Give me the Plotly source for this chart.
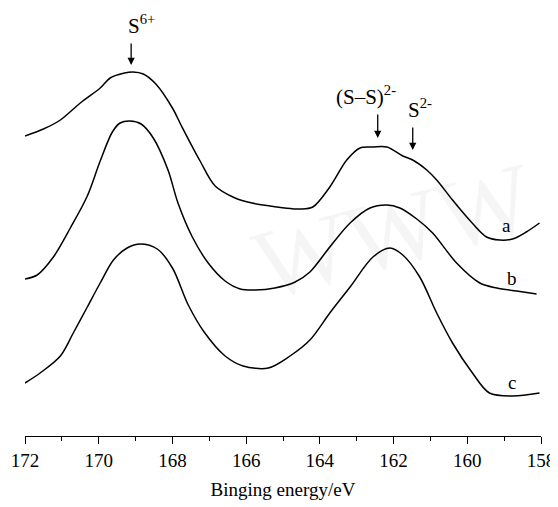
import plotly.graph_objects as go

# Binding energy (eV) and relative intensity (arbitrary units, offset stacked)
energy_a = [172.00, 171.50, 171.04, 170.50, 169.96, 169.69, 169.30, 169.07, 168.79, 168.45,
            168.00, 167.74, 167.25, 166.84, 166.30, 165.84, 165.35, 164.95, 164.54, 164.19,
            163.73, 163.27, 162.91, 162.56, 162.18, 161.75, 161.48, 161.10, 160.83, 160.40,
            159.94, 159.48, 159.12, 158.77, 158.40, 158.04]
intensity_a = [300, 307, 316, 333, 348, 358, 363, 364, 362, 352,
               328, 309, 275, 250, 238, 233, 230, 228, 227, 229,
               249, 276, 288, 289, 289, 280, 276, 266, 256, 236,
               216, 199, 196, 197, 204, 213]

energy_b = [172.00, 171.67, 171.23, 170.77, 170.31, 169.96, 169.63, 169.42, 169.15, 168.85,
            168.52, 168.12, 167.85, 167.46, 167.03, 166.57, 166.16, 165.76, 165.22,
            164.67, 164.27, 163.73, 163.18, 162.64, 162.18, 161.83, 161.37, 160.94, 160.29,
            159.66, 159.20, 158.66, 158.12]
intensity_b = [157, 161, 179, 208, 240, 275, 304, 313, 315, 312,
               298, 266, 233, 199, 173, 155, 147, 146, 148,
               154, 164, 189, 213, 228, 231, 228, 217, 203, 173,
               153, 148, 145, 142]

energy_c = [172.00, 171.59, 171.04, 170.69, 170.31, 169.96, 169.60, 169.23, 168.87, 168.41,
            168.00, 167.57, 167.14, 166.57, 166.08, 165.40, 164.81, 164.27, 163.73, 163.18,
            162.56, 162.10, 161.75, 161.29, 160.83, 160.40, 159.86, 159.40, 158.77, 158.04]
intensity_c = [53, 63, 80, 103, 129, 153, 176, 188, 192, 187,
               168, 131, 104, 80, 70, 68, 80, 96, 123, 149,
               179, 188, 181, 159, 123, 93, 63, 43, 40, 43]

curve_labels = ["a", "b", "c"]
label_x = [158.93, 158.79, 158.78]
label_y = [211, 158, 54]

peak_names = ["S<sup>6+</sup>", "(S\u2013S)<sup>2-</sup>", "S<sup>2-</sup>"]
peak_arrow_x = [169.12, 162.43, 161.48]
peak_arrow_tail = [394, 323, 310]
peak_arrow_head = [371, 298, 286]
peak_text_x = [168.85, 162.76, 161.29]

x_ticks = [172, 170, 168, 166, 164, 162, 160, 158]

FONT = "Liberation Serif"

fig = go.Figure()

# faint watermark
fig.add_annotation(x=162.0, y=205, xref="x", yref="y", text="WWW", showarrow=False,
                   font=dict(family=FONT, size=100, color="rgba(0,0,0,0.04)"),
                   textangle=-15)

for xs, ys in [(energy_a, intensity_a), (energy_b, intensity_b), (energy_c, intensity_c)]:
    fig.add_trace(go.Scatter(x=xs, y=ys, mode="lines",
                             line=dict(color="black", width=1.5, shape="spline", smoothing=0.9),
                             showlegend=False, hoverinfo="skip"))

for lab, lx, ly in zip(curve_labels, label_x, label_y):
    fig.add_annotation(x=lx, y=ly, xref="x", yref="y", text=lab, showarrow=False,
                       font=dict(family=FONT, size=19, color="black"))

for name, ax_, yt, yh, tx in zip(peak_names, peak_arrow_x, peak_arrow_tail, peak_arrow_head, peak_text_x):
    fig.add_annotation(x=ax_, y=yh, ax=ax_, ay=yt, xref="x", yref="y", axref="x", ayref="y",
                       text="", showarrow=True, arrowhead=2, arrowsize=1.1, arrowwidth=1.3,
                       arrowcolor="black")
    fig.add_annotation(x=tx, y=yt, xref="x", yref="y", text=name, showarrow=False,
                       yanchor="bottom", yshift=2,
                       font=dict(family=FONT, size=21, color="black"))

# page body adds an 8px offset; figure is sized so the plot lands where the reference has it
fig.update_layout(
    width=550, height=499,
    margin=dict(l=16.7, r=17, t=0, b=71),
    paper_bgcolor="white", plot_bgcolor="white",
    xaxis=dict(range=[172, 158], tickvals=x_ticks, ticks="outside", ticklen=7, tickwidth=1.2,
               tickcolor="black", showline=True, linecolor="black", linewidth=1.2,
               showgrid=False, zeroline=False,
               minor=dict(dtick=1, ticks="outside", ticklen=4, tickwidth=1.2, tickcolor="black"),
               tickfont=dict(family=FONT, size=19, color="black"),
               title=dict(text="Binging energy/eV", font=dict(family=FONT, size=19, color="black"),
                          standoff=12)),
    yaxis=dict(range=[0, 428], visible=False),
)

fig.write_html("out.html")
